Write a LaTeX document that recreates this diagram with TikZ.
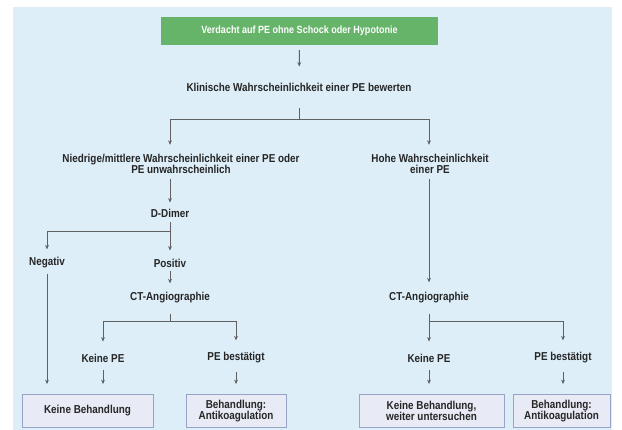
\documentclass[tikz,border=0pt]{standalone}
\usepackage{fontspec}
\setmainfont{Liberation Sans}[FakeStretch=0.86]
\usetikzlibrary{arrows.meta}
\definecolor{bgblue}{HTML}{DDEEF8}
\definecolor{topgreen}{HTML}{66B46A}
\definecolor{boxfill}{HTML}{E8EBF5}
\definecolor{boxline}{HTML}{95A5C8}
\definecolor{linegray}{HTML}{606060}
\begin{document}
\begin{tikzpicture}[x=1pt,y=-1pt,
  font=\bfseries\fontsize{11.5}{11.5}\selectfont,
  txt/.style={inner sep=0pt, align=center, text=black!85},
  conn/.style={draw=linegray, line width=1pt},
  arr/.style={conn, -{Stealth[length=4.5pt,width=3.8pt]}},
  endbox/.style={draw=boxline, fill=boxfill, line width=0.8pt, minimum height=33pt, inner sep=2pt, align=center, text=black!85}]
\useasboundingbox (0,0) rectangle (622,430);
\fill[bgblue] (13,7) rectangle (612,430);
% nodes
\node[fill=topgreen, minimum width=277pt, minimum height=28pt, text=white, inner sep=0pt, font=\bfseries\fontsize{10.5}{11}\selectfont] (top) at (299.5,31) {Verdacht auf PE ohne Schock oder Hypotonie};
\node[txt] (klin) at (299,87) {Klinische Wahrscheinlichkeit einer PE bewerten};
\node[txt] (low) at (181,164) {Niedrige/mittlere Wahrscheinlichkeit einer PE oder\\PE unwahrscheinlich};
\node[txt] (high) at (430,164) {Hohe Wahrscheinlichkeit\\einer PE};
\node[txt] (dd) at (170,213) {D-Dimer};
\node[txt] (neg) at (47,263) {Negativ};
\node[txt] (pos) at (170,263) {Positiv};
\node[txt] (ct1) at (170,298) {CT-Angiographie};
\node[txt] (ct2) at (429,298) {CT-Angiographie};
\node[txt] (nope1) at (103,358) {Keine PE};
\node[txt] (yes1) at (236,358) {PE bestätigt};
\node[txt] (nope2) at (429,358) {Keine PE};
\node[txt] (yes2) at (563,358) {PE bestätigt};
\node[endbox, minimum width=131pt] (b1) at (87.5,411) {Keine Behandlung};
\node[endbox, minimum width=100pt] (b2) at (236,411) {Behandlung:\\Antikoagulation};
\node[endbox, minimum width=145pt] (b3) at (431.5,411) {Keine Behandlung,\\weiter untersuchen};
\node[endbox, minimum width=97pt] (b4) at (561.5,411) {Behandlung:\\Antikoagulation};
% junctions
\coordinate (j1) at (299,120);
\coordinate (j2) at (170,232);
\coordinate (j3) at (170,322);
\coordinate (j4) at (429,322);
% connectors
\draw[arr, shorten <=5pt, shorten >=16pt] (top.south) -- (klin.north);
\draw[conn, shorten <=17pt] (klin.south) -- (j1);
\draw[arr, shorten >=9pt] (j1) -| (dd |- low.north);
\draw[arr, shorten >=9pt] (j1) -| (ct2 |- high.north);
\draw[arr, shorten <=5pt, shorten >=6pt] (dd |- low.south) -- (dd.north);
\draw[arr, shorten <=5pt, shorten >=10pt] (ct2 |- high.south) -- (ct2.north);
\draw[arr, shorten <=5pt, shorten >=8pt] (dd.south) -- (pos.north);
\draw[arr, shorten >=8pt] (j2) -| (neg.north);
\draw[arr, shorten <=4pt, shorten >=9pt] (pos.south) -- (ct1.north);
\draw[arr, shorten <=5pt, shorten >=10pt] (neg.south) -- (neg.south |- b1.north);
\draw[conn, shorten <=10pt] (ct1.south) -- (j3);
\draw[arr, shorten >=12pt] (j3) -| (nope1.north);
\draw[arr, shorten >=12pt] (j3) -| (yes1.north);
\draw[arr, shorten <=8pt, shorten >=10pt] (nope1.south) -- (nope1.south |- b1.north);
\draw[arr, shorten <=8pt, shorten >=10pt] (yes1.south) -- (b2.north);
\draw[conn, shorten <=10pt] (ct2.south) -- (j4);
\draw[arr, shorten >=12pt] (j4) -| (nope2.north);
\draw[arr, shorten >=12pt] (j4) -| (yes2.north);
\draw[arr, shorten <=8pt, shorten >=10pt] (nope2.south) -- (nope2.south |- b3.north);
\draw[arr, shorten <=8pt, shorten >=10pt] (yes2.south) -- (yes2.south |- b4.north);
\end{tikzpicture}
\end{document}
